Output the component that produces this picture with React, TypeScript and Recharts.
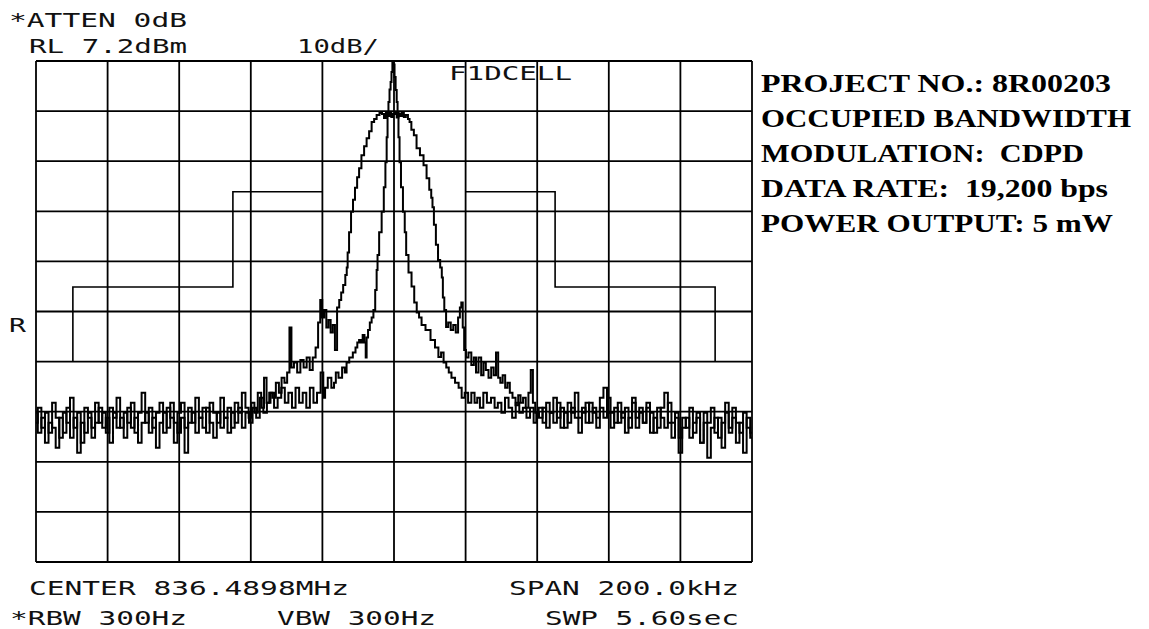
import React from 'react';
import { LineChart, Line, XAxis, YAxis, ReferenceLine } from 'recharts';

// frequency offset from center (kHz), level (dBm)
const freqTicks = [-100, -80, -60, -40, -20, 0, 20, 40, 60, 80, 100];
const levelTicks = [7.2, -2.8, -12.8, -22.8, -32.8, -42.8, -52.8, -62.8, -72.8, -82.8, -92.8];

const wideTrace: [number, number][] = [
  [-100, -65], [-99, -62], [-98, -66], [-97, -63], [-96, -67], [-95, -61], [-94, -64], [-93, -68], [-92, -63], [-91, -65],
  [-90, -60], [-89, -66], [-88, -63], [-87, -69], [-86, -62], [-85, -64], [-84, -66], [-83, -61], [-82, -65], [-81, -63],
  [-80, -67], [-79, -62], [-78, -64], [-77, -60], [-76, -66], [-75, -63], [-74, -65], [-73, -61], [-72, -67], [-71, -63],
  [-70, -59], [-69, -65], [-68, -62], [-67, -66], [-66, -63], [-65, -61], [-64, -67], [-63, -62], [-62, -64], [-61, -69],
  [-60, -63], [-59, -61], [-58, -66], [-57, -62], [-56, -65], [-55, -60], [-54, -64], [-53, -62], [-52, -67], [-51, -61],
  [-50, -63], [-49, -65], [-48, -60], [-47, -64], [-46, -62], [-45, -66], [-44, -61], [-43, -63], [-42, -59], [-41, -62],
  [-40.2, -64], [-39.5, -61], [-38.5, -63], [-37.6, -59], [-36.6, -62], [-36, -56], [-35.2, -61], [-34.5, -59], [-33.5, -60],
  [-32.5, -57], [-31.8, -59], [-31, -56], [-30.2, -57], [-29.5, -55], [-28.9, -46], [-28.4, -54], [-27.5, -53], [-26.6, -55],
  [-25.7, -52.5], [-24.8, -54], [-24, -52], [-23.1, -54.5], [-22.3, -52], [-21.5, -50], [-20.9, -45], [-20.3, -40.5],
  [-19.8, -44], [-19.2, -42.5], [-18.6, -46], [-18, -44.5], [-17.4, -47], [-16.8, -45.5], [-16.2, -50.5], [-15.6, -42],
  [-15, -40.5], [-14.5, -39], [-13.9, -37.5], [-13.3, -35.5], [-13.1, -34], [-12.8, -31], [-12.3, -27], [-11.7, -22.9],
  [-11.2, -20.5], [-10.6, -18.1], [-10, -16], [-9.5, -14.2], [-8.7, -11.6], [-8, -9.8], [-7.3, -8.2], [-6.6, -6.8],
  [-5.9, -5], [-5.2, -4.4], [-4.5, -3.6], [-3.6, -3.2], [-3.1, -3.4], [-2.5, -4.2], [-2, -3], [-1.5, -3.8], [-1, -3.2],
  [-0.5, -4], [0, -3.4], [0.5, -3], [1, -4.1], [1.5, -3.3], [2, -3.8], [2.5, -3.1], [3, -4], [3.6, -3.6],
  [4.2, -4.4], [4.5, -5], [5.2, -6.5], [5.9, -7.6], [6.7, -10.2], [7.8, -11.6], [8.7, -13.6], [9.5, -16.2], [10.2, -18.5],
  [10.6, -20.1], [10.9, -22], [11.4, -25.5], [12, -29.5], [12.6, -32.5], [13.2, -34], [13.5, -36], [13.8, -40], [14.3, -42.5],
  [14.8, -45.9], [15.5, -45], [16.2, -46.5], [16.9, -45.5], [17.6, -47], [18.2, -44], [18.6, -42], [19, -41], [19.4, -46],
  [19.8, -50.5], [20.4, -52], [21.2, -51], [22, -53.5], [22.6, -52], [23.2, -55], [24, -52], [24.7, -55.5], [25.3, -53],
  [26, -54.5], [26.8, -56], [27.5, -54], [28.2, -55.5], [28.8, -51], [29.4, -56], [30, -57], [30.7, -55.5], [31.4, -58],
  [32, -57], [32.7, -59], [33.5, -60], [34.4, -61.5], [35, -59.5], [35.7, -61], [36.4, -60], [37.2, -62], [37.9, -59],
  [38.5, -54.5], [39.1, -61], [39.8, -63],
  [41, -62], [42, -65], [43, -61], [44, -63], [45, -60], [46, -64], [47, -62], [48, -66], [49, -61], [50, -63],
  [51, -59], [52, -64], [53, -62], [54, -65], [55, -61], [56, -63], [57, -66], [58, -62], [59, -64], [60, -60],
  [61, -63], [62, -65], [63, -61], [64, -64], [65, -62], [66, -66], [67, -60], [68, -64], [69, -62], [70, -65],
  [71, -61], [72, -63], [73, -67], [74, -62], [75, -64], [76, -66], [77, -61], [78, -65], [79, -63], [80, -68],
  [81, -64], [82, -66], [83, -62], [84, -67], [85, -64], [86, -69], [87, -63], [88, -65], [89, -62], [90, -67],
  [91, -64], [92, -70], [93, -63], [94, -66], [95, -62], [96, -65], [97, -67], [98, -63], [99, -66], [100, -68],
];

const narrowTrace: [number, number][] = [
  [-100, -63], [-99, -67], [-98, -64], [-97, -69], [-96, -65], [-95, -66], [-94, -70], [-93, -64], [-92, -67], [-91, -62],
  [-90, -68], [-89, -64], [-88, -71], [-87, -65], [-86, -67], [-85, -63], [-84, -68], [-83, -65], [-82, -62], [-81, -66],
  [-80, -64], [-79, -69], [-78, -63], [-77, -66], [-76, -64], [-75, -68], [-74, -62], [-73, -66], [-72, -64], [-71, -69],
  [-70, -65], [-69, -63], [-68, -67], [-67, -64], [-66, -70], [-65, -65], [-64, -63], [-63, -66], [-62, -61], [-61, -65],
  [-60, -67], [-59, -64], [-58, -71], [-57, -65], [-56, -63], [-55, -67], [-54, -64], [-53, -66], [-52, -62], [-51, -65],
  [-50, -68], [-49, -63], [-48, -66], [-47, -64], [-46, -67], [-45, -63], [-44, -65], [-43, -62], [-42, -66], [-41, -63],
  [-40, -65], [-39, -62], [-38, -64], [-37, -60], [-36, -63], [-35, -61], [-34, -59], [-33, -62], [-32, -60], [-31, -58],
  [-30, -61], [-29, -59], [-28, -62], [-27, -58], [-26, -61], [-25, -59], [-24, -62], [-23, -58], [-22, -61], [-21, -59],
  [-20, -55], [-19.5, -60], [-19, -58], [-18, -56], [-17, -58], [-16.5, -57], [-16, -55], [-15, -56], [-14, -54],
  [-13.5, -55], [-13, -53], [-12, -52], [-11, -51], [-10.5, -50], [-10, -49], [-9.5, -48.5], [-9, -49], [-8.5, -47.5],
  [-8, -49], [-7.8, -52], [-7.5, -48], [-7, -46.5], [-6.5, -45], [-6, -44], [-5.5, -42.5], [-5, -38.5], [-4.7, -34.5],
  [-4.5, -31.5], [-3.8, -27], [-3.1, -22.9], [-2.6, -18], [-2.2, -13], [-1.9, -8], [-1.7, -3], [-1.4, -1], [-1.1, 1.5],
  [-0.8, 3], [-0.6, 5], [-0.3, 7.2], [0, 6.5], [0.3, 4], [0.6, 1.4], [0.9, -1], [1.1, -3], [1.4, -8], [1.7, -13],
  [2.2, -18], [2.8, -22.9], [3.2, -27], [3.6, -31.5], [4.5, -35], [5.3, -37.8], [6, -41], [6.7, -43], [7.3, -44],
  [8.1, -45.5], [9.5, -46.5], [10.9, -48.5], [12, -50], [12.8, -51.9], [13.5, -51], [14.2, -53], [15, -54], [15.6, -55],
  [16.5, -56], [17.6, -57], [18.5, -58], [19.3, -60], [20.2, -59], [21.2, -61], [22, -59], [23, -61], [23.5, -60],
  [24.5, -62], [25.4, -59], [26.5, -61], [27.7, -60], [28.5, -62], [29.5, -61], [30.5, -63], [31.5, -60], [32.5, -62],
  [33.5, -64], [34.5, -61], [35.5, -63], [36.5, -62], [37.5, -64], [38.5, -62], [39.5, -65], [40, -63],
  [41, -64], [42, -62], [43, -66], [44, -63], [45, -65], [46, -61], [47, -66], [48, -63], [49, -65], [50, -62],
  [51, -64], [52, -67], [53, -63], [54, -61], [55, -65], [56, -62], [57, -64], [58, -60], [59, -58], [60, -63],
  [61, -66], [62, -62], [63, -65], [64, -63], [65, -67], [66, -64], [67, -61], [68, -66], [69, -63], [70, -65],
  [71, -62], [72, -67], [73, -64], [74, -66], [75, -62], [76, -59], [77, -65], [78, -68], [79, -64], [80, -71],
  [81, -66], [82, -64], [83, -68], [84, -65], [85, -63], [86, -69], [87, -65], [88, -72], [89, -66], [90, -64],
  [91, -68], [92, -65], [93, -61], [94, -67], [95, -64], [96, -69], [97, -65], [98, -71], [99, -64], [100, -67],
];

// occupied bandwidth limit mask
const maskLeft: [number, number][] = [[-89.7, -52.8], [-89.7, -37.9], [-45, -37.9], [-45, -18.9], [-20, -18.9]];
const maskRight: [number, number][] = [[20, -18.9], [45, -18.9], [45, -37.9], [89.7, -37.9], [89.7, -52.8]];

const monoLabels = [
  { text: '*ATTEN 0dB', x: 9, y: 27, len: 178 },
  { text: 'RL 7.2dBm', x: 29, y: 53, len: 158 },
  { text: '10dB/', x: 297, y: 53, len: 82 },
  { text: 'F1DCELL', x: 449, y: 80, len: 123 },
  { text: 'R', x: 9, y: 332, len: 17 },
  { text: 'CENTER 836.4898MHz', x: 29, y: 595, len: 320 },
  { text: 'SPAN 200.0kHz', x: 509, y: 595, len: 230 },
  { text: '*RBW 300Hz', x: 10, y: 625, len: 177 },
  { text: 'VBW 300Hz', x: 277, y: 625, len: 159 },
  { text: 'SWP 5.60sec', x: 545, y: 625, len: 194 },
];

const infoLines = [
  { text: 'PROJECT NO.: 8R00203', len: 350 },
  { text: 'OCCUPIED BANDWIDTH', len: 370 },
  { text: 'MODULATION:  CDPD', len: 323 },
  { text: 'DATA RATE:  19,200 bps', len: 347 },
  { text: 'POWER OUTPUT: 5 mW', len: 352 },
];

const toRows = (pts: [number, number][]) => pts.map(([f, v]) => ({ f, v }));

const App = () => {
  const traces = [wideTrace, narrowTrace].map(toRows);
  const masks = [maskLeft, maskRight].map(toRows);

  return (
    <div style={{ position: 'fixed', left: 0, top: 0, width: 1149, height: 629, background: '#fff' }}>
      <LineChart width={1149} height={629} margin={{ top: 61, right: 397, bottom: 67, left: 36 }}>
        <XAxis dataKey="f" type="number" domain={[-100, 100]} ticks={freqTicks} height={0} tick={false} axisLine={false} tickLine={false} allowDataOverflow />
        <YAxis type="number" domain={[-92.8, 7.2]} ticks={levelTicks} width={0} tick={false} axisLine={false} tickLine={false} allowDataOverflow />
        {freqTicks.map(t => <ReferenceLine key={'x' + t} x={t} stroke="#000" strokeWidth={1.8} ifOverflow="extendDomain" />)}
        {levelTicks.map(t => <ReferenceLine key={'y' + t} y={t} stroke="#000" strokeWidth={1.8} ifOverflow="extendDomain" />)}
        {masks.map((d, i) => (
          <Line key={'m' + i} data={d} dataKey="v" type="linear" dot={false} stroke="#000" strokeWidth={1.6} isAnimationActive={false} />
        ))}
        {traces.map((d, i) => (
          <Line key={'t' + i} data={d} dataKey="v" type="step" dot={false} stroke="#000" strokeWidth={2} isAnimationActive={false} />
        ))}
      </LineChart>
      <svg width={1149} height={629} style={{ position: 'absolute', left: 0, top: 0, pointerEvents: 'none' }}>
        {monoLabels.map(l => (
          <text key={l.text} x={l.x} y={l.y} textLength={l.len} lengthAdjust="spacingAndGlyphs"
            fontFamily="'DejaVu Sans Mono', monospace" fontSize={19} fill="#111">{l.text}</text>
        ))}
        {infoLines.map((l, i) => (
          <text key={l.text} x={761} y={92 + i * 35} textLength={l.len} lengthAdjust="spacingAndGlyphs"
            fontFamily="'Liberation Serif', serif" fontWeight="bold" fontSize={25} fill="#000" style={{ whiteSpace: 'pre' }}>{l.text}</text>
        ))}
      </svg>
    </div>
  );
};

export default App;
